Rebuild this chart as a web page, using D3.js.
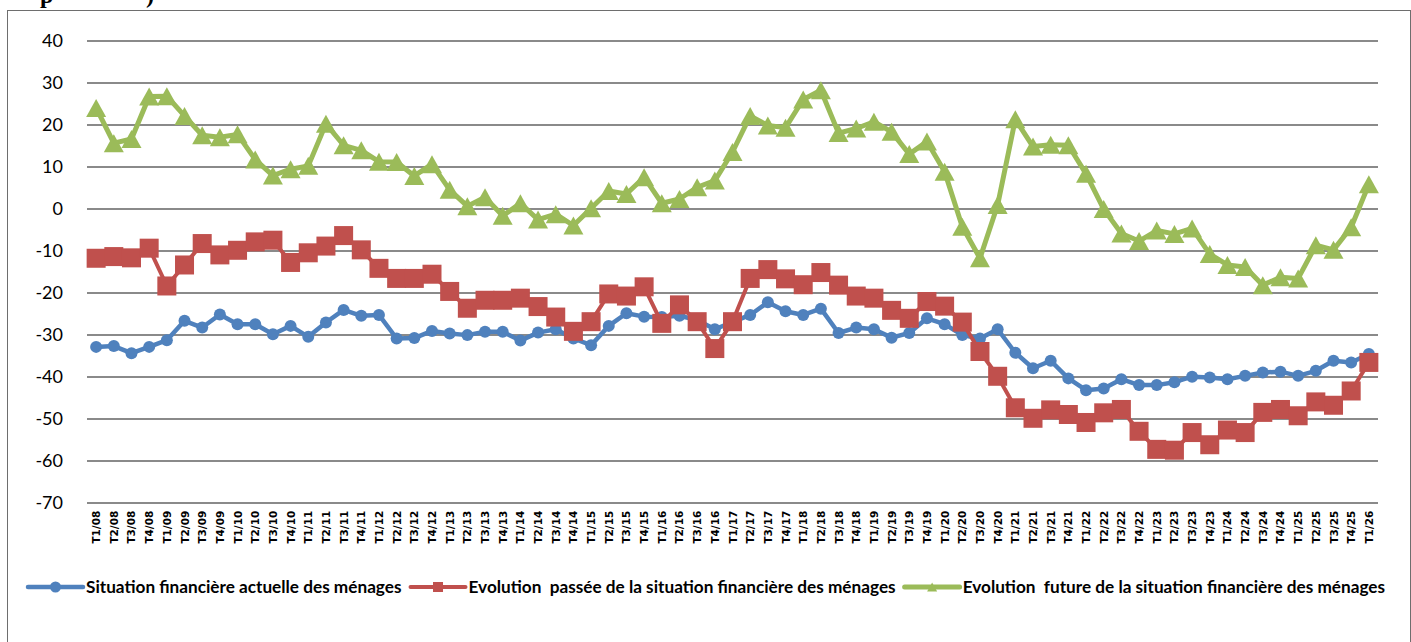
<!DOCTYPE html>
<html lang="fr">
<head>
    <meta charset="UTF-8">
    <title>Situation financière des ménages</title>
    <script src="https://d3js.org/d3.v7.min.js"></script>
    <style>
        body { margin: 0; background: #fff; }
        svg { display: block; }
        .grid-line { stroke: #8a8a8a; stroke-width: 1.8px; shape-rendering: crispEdges; }
        .y-label { font-family: Lato, sans-serif; font-size: 18px; fill: #000; }
        .x-label { font-family: "DejaVu Sans", sans-serif; font-weight: bold; font-size: 10.5px; fill: #000; }
        .legend-text { font-family: Lato, sans-serif; font-weight: bold; font-size: 17.2px; fill: #000; }
        .series-line { fill: none; stroke-linejoin: round; stroke-linecap: round; }
    </style>
</head>
<body>
<div id="chart"></div>
<script>
    // --- Data ---
    const years = d3.range(8, 26).map(y => String(y).padStart(2, "0"));
    const quarters = years.flatMap(y => ["T1", "T2", "T3", "T4"].map(q => `${q}/${y}`)).concat(["T1/26"]);

    const actuelle = [-32.9, -32.7, -34.4, -32.9, -31.3, -26.7, -28.3, -25.2, -27.5, -27.5,
        -29.9, -27.9, -30.5, -27.1, -24.1, -25.5, -25.3, -30.9, -30.8, -29.1,
        -29.7, -30.1, -29.3, -29.3, -31.4, -29.5, -28.7, -30.9, -32.5, -27.9,
        -24.9, -25.7, -25.8, -25.5, -26.5, -28.7, -27.0, -25.3, -22.3, -24.4,
        -25.3, -23.8, -29.6, -28.3, -28.7, -30.7, -29.6, -26.1, -27.5, -30.1,
        -30.9, -28.7, -34.3, -38.0, -36.2, -40.4, -43.2, -42.8, -40.6, -42.0,
        -42.0, -41.3, -40.0, -40.2, -40.6, -39.8, -39.0, -38.8, -39.8, -38.6,
        -36.2, -36.6, -34.6];

    const passee = [-11.8, -11.4, -11.7, -9.4, -18.4, -13.4, -8.3, -11.0, -9.9, -7.9,
        -7.5, -12.8, -10.5, -8.9, -6.4, -9.8, -14.2, -16.6, -16.6, -15.6,
        -19.7, -23.7, -21.8, -21.8, -21.3, -23.3, -25.8, -29.2, -26.9, -20.3,
        -20.8, -18.6, -27.3, -22.9, -26.9, -33.3, -26.9, -16.6, -14.5, -16.7,
        -18.1, -15.2, -18.2, -20.8, -21.3, -24.2, -26.1, -22.1, -23.2, -27.0,
        -34.0, -39.9, -47.4, -49.9, -47.9, -49.0, -50.9, -48.6, -47.8, -53.0,
        -57.3, -57.5, -53.3, -56.2, -52.7, -53.3, -48.5, -47.8, -49.3, -46.0,
        -46.8, -43.4, -36.6];

    const future = [24.0, 15.6, 16.6, 26.7, 26.8, 22.1, 17.5, 17.0, 17.7, 11.7,
        7.9, 9.4, 10.2, 20.2, 15.1, 13.9, 11.2, 11.1, 7.8, 10.6,
        4.5, 0.6, 2.7, -1.7, 1.3, -2.6, -1.3, -4.0, 0.1, 4.2,
        3.5, 7.5, 1.3, 2.3, 5.1, 6.7, 13.5, 22.1, 19.8, 19.3,
        26.0, 28.2, 18.0, 19.1, 20.7, 18.3, 13.0, 16.0, 8.8, -4.3,
        -11.8, 0.9, 21.3, 14.8, 15.2, 15.1, 8.3, -0.1, -5.9, -7.7,
        -5.2, -6.0, -4.7, -10.8, -13.4, -13.9, -18.2, -16.3, -16.6, -8.7,
        -9.8, -4.4, 5.8];

    const yTicks = [40, 30, 20, 10, 0, -10, -20, -30, -40, -50, -60, -70];

    const seriesNames = [
        "Situation financière actuelle des ménages",
        "Evolution\u00a0 passée de la situation financière des ménages",
        "Evolution\u00a0 future de la situation financière des ménages"
    ];
    const seriesColors = ["#4f81bd", "#c0504d", "#9bbb59"];

    // --- Setup ---
    const W = 1411, H = 642;
    const svg = d3.select("#chart").append("svg").attr("width", W).attr("height", H);

    // caption above the frame, cut off by the page top as in the source image
    svg.append("text")
        .attr("x", 40).attr("y", 3)
        .style("font-family", "'Liberation Serif', serif").style("font-weight", "bold").style("font-size", "24px")
        .text("p")
        .append("tspan").attr("x", 146).text(")");

    // chart frame
    svg.append("rect").attr("x", 7.5).attr("y", 10.5).attr("width", 1403).attr("height", 640)
        .attr("fill", "none").attr("stroke", "#6e6e6e").attr("stroke-width", 1);

    const plot = { left: 87.3, right: 1377.7, top: 40.7, bottom: 502.7 };
    const x = d3.scalePoint().domain(quarters).range([plot.left, plot.right]).padding(0.5);
    const y = d3.scaleLinear().domain([-70, 40]).range([plot.bottom, plot.top]);

    // gridlines
    svg.append("g").selectAll("line").data(yTicks).join("line")
        .attr("class", "grid-line")
        .attr("x1", plot.left).attr("x2", plot.right)
        .attr("y1", d => Math.round(y(d))).attr("y2", d => Math.round(y(d)));

    // y labels
    svg.append("g").selectAll("text").data(yTicks).join("text")
        .attr("class", "y-label")
        .attr("x", 63).attr("y", d => y(d)).attr("dy", "0.35em")
        .attr("text-anchor", "end")
        .text(d => d);

    // x labels (rotated)
    svg.append("g").selectAll("text").data(quarters).join("text")
        .attr("class", "x-label")
        .attr("transform", d => `translate(${x(d) + 4},${plot.bottom + 8}) rotate(-90)`)
        .attr("text-anchor", "end")
        .text(d => d);

    // --- Series ---
    const allSeries = [actuelle, passee, future];
    const line = d3.line().x((d, i) => x(quarters[i])).y(d => y(d));
    const lineWidths = [4.5, 4, 5];

    const trianglePath = (w, h) => `M0,${-h / 2}L${w / 2},${h / 2}L${-w / 2},${h / 2}Z`;
    function drawMarker(g, k) {
        if (k === 0) return g.append("circle").attr("r", 6);
        if (k === 1) return g.append("rect").attr("x", -9.5).attr("y", -9.5).attr("width", 19).attr("height", 19);
        return g.append("path").attr("d", trianglePath(20, 18));
    }

    allSeries.forEach((vals, k) => {
        const g = svg.append("g");
        g.append("path").datum(vals)
            .attr("class", "series-line")
            .attr("stroke", seriesColors[k]).attr("stroke-width", lineWidths[k])
            .attr("d", line);
        vals.forEach((v, i) => {
            const m = g.append("g").attr("transform", `translate(${x(quarters[i])},${y(v)})`);
            drawMarker(m, k).attr("fill", seriesColors[k]);
        });
    });

    // --- Legend ---
    const legend = svg.append("g").attr("transform", "translate(28,587)");
    let lx = 0;
    seriesNames.forEach((name, k) => {
        const item = legend.append("g").attr("transform", `translate(${lx},0)`);
        item.append("line").attr("x1", 0).attr("x2", 55).attr("y1", 0).attr("y2", 0)
            .attr("stroke", seriesColors[k]).attr("stroke-width", lineWidths[k]).attr("stroke-linecap", "round");
        const m = item.append("g").attr("transform", "translate(27.5,0)");
        if (k === 0) m.append("circle").attr("r", 5.5).attr("fill", seriesColors[k]);
        if (k === 1) m.append("rect").attr("x", -5).attr("y", -5).attr("width", 10).attr("height", 10).attr("fill", seriesColors[k]);
        if (k === 2) m.append("path").attr("d", trianglePath(10, 9)).attr("fill", seriesColors[k]);
        const t = item.append("text").attr("class", "legend-text")
            .attr("x", 58).attr("y", 0).attr("dy", "0.35em").text(name);
        lx += 58 + t.node().getComputedTextLength() + 9;
    });
</script>
</body>
</html>
